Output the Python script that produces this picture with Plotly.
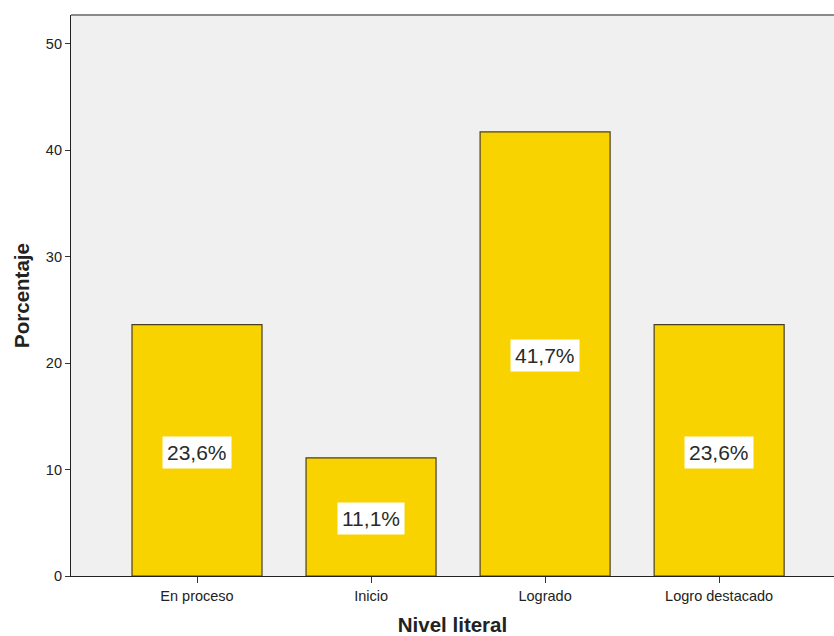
import plotly.graph_objects as go

# Distribution of "Nivel literal" levels
categories = ["En proceso", "Inicio", "Logrado", "Logro destacado"]
percentages = [23.6, 11.1, 41.7, 23.6]
y_ticks = [0, 10, 20, 30, 40, 50]

FONT = "Liberation Sans, Arial, sans-serif"

fig = go.Figure()
fig.add_trace(go.Bar(
    x=list(range(len(categories))),
    y=percentages,
    width=0.747,
    marker=dict(color="#F9D300", line=dict(color="#4A3F1E", width=1.2)),
    hoverinfo="skip",
))

# Value labels in white boxes at the middle of each bar
for i, v in enumerate(percentages):
    fig.add_annotation(
        x=i, y=v / 2, yshift=-2, text=f"{v:.1f}%".replace(".", ","),
        showarrow=False, bgcolor="white", borderpad=4,
        font=dict(family=FONT, size=21, color="#2A2A2A"),
    )

# Thin gray frame along the top of the plot area
fig.add_shape(type="line", xref="paper", yref="paper", x0=0, x1=1, y0=1, y1=1,
              line=dict(color="#8A8A8A", width=2))

fig.update_layout(
    width=834, height=636,
    margin=dict(l=71, r=0, t=15, b=60),
    paper_bgcolor="white", plot_bgcolor="#F0F0F0",
    showlegend=False,
    font=dict(family=FONT, color="#222222"),
    xaxis=dict(
        range=[-0.724, 3.66],
        tickmode="array",
        tickvals=list(range(len(categories))),
        ticktext=categories,
        ticks="outside", ticklen=6, tickcolor="#333333",
        tickfont=dict(size=14.5),
        showline=True, linecolor="#222222", linewidth=1.2,
        showgrid=False, zeroline=False,
        automargin=False,
        title=dict(text="<b>Nivel literal</b>", font=dict(size=20.5), standoff=18),
    ),
    yaxis=dict(
        range=[0, 52.68],
        tickmode="array", tickvals=y_ticks,
        ticks="outside", ticklen=5, tickcolor="#333333",
        tickfont=dict(size=14.5),
        showline=True, linecolor="#222222", linewidth=1.2,
        showgrid=False, zeroline=False,
        automargin=False,
        title=dict(text="<b>Porcentaje</b>", font=dict(size=20.5), standoff=10),
    ),
)

fig.write_html("out.html")
